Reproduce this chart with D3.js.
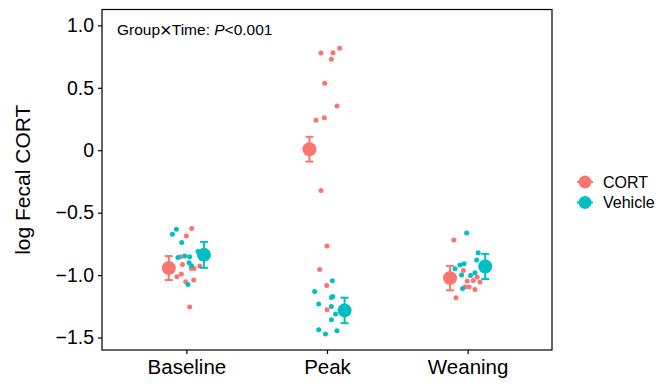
<!DOCTYPE html>
<html><head><meta charset="utf-8">
<script src="https://cdn.jsdelivr.net/npm/d3@7/dist/d3.min.js"></script>
<style>body{margin:0;background:#fff}svg{display:block}text{font-family:"Liberation Sans",Arial,sans-serif;fill:#000}</style>
</head><body>
<script>
const times = ["Baseline", "Peak", "Weaning"];
const groups = ["CORT", "Vehicle"];
const colors = ["#F8766D", "#00BFC4"];
const yTicks = [1.0, 0.5, 0, -0.5, -1.0, -1.5];
const yTickLabels = ["1.0", "0.5", "0", "\u22120.5", "\u22121.0", "\u22121.5"];
// group means and standard errors per time
const meanCORT = [-0.944, 0.008, -1.024];
const seCORT = [0.096, 0.099, 0.098];
const meanVehicle = [-0.838, -1.283, -0.931];
const seVehicle = [0.104, 0.102, 0.101];
// individual values (jitter = horizontal jitter, fraction of category step)
const cortBaseline = [-0.627, -0.686, -0.854, -0.915, -0.947, -0.947, -0.928, -0.992, -1.014, -1.054, -1.040, -1.256];
const cortBaselineJit = [0.038, 0, -0.041, -0.028, 0.036, 0.054, 0.095, -0.036, -0.067, -0.005, 0.052, 0.023];
const vehBaseline = [-0.632, -0.672, -0.739, -0.859, -0.848, -0.854, -0.902, -0.926, -1.075, -0.811];
const vehBaselineJit = [-0.071, -0.100, -0.033, -0.060, -0.012, 0.023, 0.019, 0.036, 0.011, 0.083];
const cortPeak = [0.778, 0.781, 0.816, 0.728, 0.536, 0.354, 0.261, 0.240, -0.323, -0.768, -0.955, -1.083, -1.278];
const cortPeakJit = [-0.043, 0.043, 0.090, 0.031, -0.016, 0.071, -0.019, -0.078, -0.043, 0, -0.052, -0.002, 0];
const vehPeak = [-1.046, -1.131, -1.179, -1.171, -1.232, -1.251, -1.312, -1.358, -1.438, -1.472, -1.446];
const vehPeakJit = [0.038, -0.088, 0.031, 0.041, -0.059, 0.031, 0.060, 0.031, -0.059, -0.011, 0.071];
const cortWeaning = [-0.720, -0.963, -1.016, -1.048, -1.043, -1.056, -1.096, -1.096, -1.115, -1.182];
const cortWeaningJit = [-0.098, -0.031, 0.068, -0.003, 0.040, 0.088, -0.019, 0.011, 0.052, -0.083];
const vehWeaning = [-0.662, -0.822, -0.880, -0.920, -0.910, -0.950, -1.000, -1.003, -0.982, -1.107];
const vehWeaningJit = [-0.007, 0.075, 0.064, -0.055, -0.026, -0.090, -0.043, 0.021, 0.052, -0.036];

const W = 667, H = 386;
const L = 102, R = 552, T = 9.5, B = 350;
const svg = d3.select("body").append("svg").attr("width", W).attr("height", H);

const x = d3.scalePoint().domain(times).range([L, R]).padding(0.6);
const step = x.step();
const y = d3.scaleLinear().domain([-1.6, 1.127]).range([B, T]);

// build point table
const raw = [
  [0, 0, cortBaseline, cortBaselineJit], [1, 0, vehBaseline, vehBaselineJit],
  [0, 1, cortPeak, cortPeakJit], [1, 1, vehPeak, vehPeakJit],
  [0, 2, cortWeaning, cortWeaningJit], [1, 2, vehWeaning, vehWeaningJit]
];
const pts = [];
raw.forEach(([g, t, vals, jit]) => vals.forEach((v, i) => pts.push({g, t: times[t], v, j: jit[i]})));

const means = [];
times.forEach((t, i) => {
  means.push({g: 0, t, m: meanCORT[i], se: seCORT[i]});
  means.push({g: 1, t, m: meanVehicle[i], se: seVehicle[i]});
});
const dodge = 0.125;

// points
svg.append("g").selectAll("circle").data(pts).join("circle")
  .attr("cx", d => x(d.t) + d.j * step)
  .attr("cy", d => y(d.v))
  .attr("r", 2.5)
  .attr("fill", d => colors[d.g]);

// error bars + means
const mg = svg.append("g");
means.forEach(d => {
  const cx = x(d.t) + (d.g === 0 ? -dodge : dodge) * step;
  const c = colors[d.g];
  const g = mg.append("g").attr("stroke", c).attr("stroke-width", 2);
  g.append("line").attr("x1", cx).attr("x2", cx).attr("y1", y(d.m + d.se)).attr("y2", y(d.m - d.se));
  g.append("line").attr("x1", cx - 4).attr("x2", cx + 4).attr("y1", y(d.m + d.se)).attr("y2", y(d.m + d.se));
  g.append("line").attr("x1", cx - 4).attr("x2", cx + 4).attr("y1", y(d.m - d.se)).attr("y2", y(d.m - d.se));
  mg.append("circle").attr("cx", cx).attr("cy", y(d.m)).attr("r", 7).attr("fill", c);
});

// panel border
svg.append("rect").attr("x", L).attr("y", T).attr("width", R - L).attr("height", B - T)
  .attr("fill", "none").attr("stroke", "#000").attr("stroke-width", 1.2);

// axes
const yAxis = d3.axisLeft(y).tickValues(yTicks).tickSize(4).tickPadding(4)
  .tickFormat((d, i) => yTickLabels[i]);
const ya = svg.append("g").attr("transform", `translate(${L},0)`).call(yAxis);
ya.select(".domain").remove();
ya.selectAll(".tick line").attr("stroke", "#000").attr("stroke-width", 1.2);
ya.selectAll("text").attr("font-size", 19.5).attr("font-family", "Liberation Sans, Arial, sans-serif").attr("fill", "#000");

const xAxis = d3.axisBottom(x).tickSize(4).tickPadding(5);
const xa = svg.append("g").attr("transform", `translate(0,${B})`).call(xAxis);
xa.select(".domain").remove();
xa.selectAll(".tick line").attr("stroke", "#000").attr("stroke-width", 1.2);
xa.selectAll("text").attr("font-size", 20.5).attr("font-family", "Liberation Sans, Arial, sans-serif").attr("fill", "#000");

// y title
svg.append("text").attr("transform", `translate(30,${(T + B) / 2}) rotate(-90)`)
  .attr("text-anchor", "middle").attr("font-size", 21).text("log Fecal CORT");

// annotation
const ann = svg.append("text").attr("x", 117).attr("y", 35).attr("font-size", 15.5);
ann.append("tspan").text("Group");
ann.append("tspan").attr("font-size", 20).attr("dy", 1.5).text("\u00D7");
ann.append("tspan").attr("dy", -1.5).text("Time: ");
ann.append("tspan").attr("font-style", "italic").text("P");
ann.append("tspan").text("<0.001");

// legend
const lg = svg.append("g");
groups.forEach((g, i) => {
  const cy = 182 + i * 20.5;
  lg.append("line").attr("x1", 577).attr("x2", 593).attr("y1", cy).attr("y2", cy)
    .attr("stroke", colors[i]).attr("stroke-width", 2);
  lg.append("circle").attr("cx", 585).attr("cy", cy).attr("r", 6.5).attr("fill", colors[i]);
  lg.append("text").attr("x", 603).attr("y", cy).attr("dy", "0.35em").attr("font-size", 16).text(g);
});
</script>
</body></html>
